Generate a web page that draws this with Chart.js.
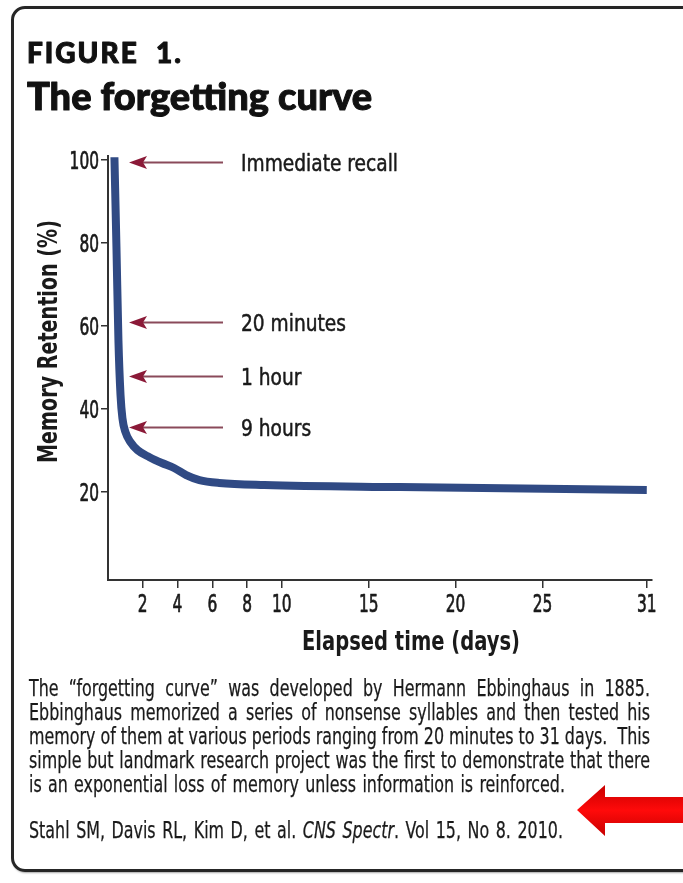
<!DOCTYPE html>
<html>
<head>
<meta charset="utf-8">
<script src="https://cdn.jsdelivr.net/npm/chart.js@4.4.0/dist/chart.umd.min.js"></script>
<style>
  html, body { margin: 0; padding: 0; background: #fff; }
  body { width: 683px; height: 883px; position: relative; overflow: hidden; }
  .frame {
    position: absolute; left: 11px; top: 6px; width: 700px; height: 860px;
    border: 3px solid #262626; border-radius: 14px;
    box-shadow: 1px 1px 2px rgba(0,0,0,0.35);
  }
  #chart { position: absolute; left: 0; top: 0; }
  .caption {
    position: absolute; left: 29px; top: 676px;
    font-family: 'DejaVu Sans Condensed', sans-serif;
    font-size: 23.5px; line-height: 24px; color: #1a1a1a;
    -webkit-text-stroke: 0.25px #1a1a1a;
    transform-origin: 0 0;
  }
  .caption div { white-space: nowrap; text-align: left; }
  .caption div.j { text-align: justify; text-align-last: justify; }
  .caption .cite { margin-top: 22px; }
</style>
</head>
<body>
<div class="frame"></div>
<canvas id="chart" width="683" height="883"></canvas>
<div class="caption" id="caption">
  <div class="row"><span>The “forgetting curve” was developed by Hermann Ebbinghaus in 1885.</span></div>
  <div class="row"><span>Ebbinghaus memorized a series of nonsense syllables and then tested his</span></div>
  <div class="row"><span>memory of them at various periods ranging from 20 minutes to 31 days.&nbsp; This</span></div>
  <div class="row"><span>simple but landmark research project was the first to demonstrate that there</span></div>
  <div id="last" data-w="536"><span>is an exponential loss of memory unless information is reinforced.</span></div>
  <div id="cite" class="cite" data-w="534"><span>Stahl SM, Davis RL, Kim D, et al. <i>CNS Spectr</i>. Vol 15, No 8. 2010.</span></div>
</div>
<script>
// values
const xTicks = [2, 4, 6, 8, 10, 15, 20, 25, 31];
const yTicks = [20, 40, 60, 80, 100];
const days = [0.37, 0.49, 0.6, 0.72, 0.83, 1.0, 1.3, 1.7, 2.39, 3.1, 3.8, 4.5, 5.26, 6.4, 9, 16.8, 31];
const retention = [100.7, 78.3, 56.6, 43.4, 37.8, 34.5, 32, 30.1, 28.4, 27, 25.8, 24.1, 22.9, 22.2, 21.7, 21.2, 20.5];
const noteLabels = ['Immediate recall', '20 minutes', '1 hour', '9 hours'];
const noteValues = [99.5, 61, 48, 35.7];

const COND = "'DejaVu Sans Condensed', sans-serif";
const TEXT = '#1a1a1a';
const AXIS = '#333';
const LINE = '#304a84';

// caption: squeeze so the tight lines fill the text block
const BLOCK = 621;
const cap = document.getElementById('caption');
const rows = Array.from(cap.querySelectorAll('.row'));
let k = 1;
rows.forEach(r => {
  const w = r.firstElementChild.getBoundingClientRect().width;
  k = Math.min(k, BLOCK / w);
});
cap.style.width = (BLOCK / k) + 'px';
cap.style.transform = 'scaleX(' + k + ')';
rows.forEach(r => r.classList.add('j'));
['last', 'cite'].forEach(id => {
  const el = document.getElementById(id);
  el.style.width = (el.dataset.w / k) + 'px';
  el.classList.add('j');
});

function squeezed(ctx, text, x, y, width, align, stroke) {
  const w = ctx.measureText(text).width;
  ctx.save();
  ctx.translate(x, y);
  ctx.scale(width / w, 1);
  ctx.textAlign = align;
  ctx.fillText(text, 0, 0);
  if (stroke) {
    ctx.lineWidth = stroke;
    ctx.strokeStyle = ctx.fillStyle;
    ctx.strokeText(text, 0, 0);
  }
  ctx.restore();
}

const notesPlugin = {
  id: 'notes',
  afterDraw(chart) {
    const { ctx, chartArea, scales: { x, y } } = chart;
    ctx.save();

    // titles
    ctx.fillStyle = '#111';
    ctx.strokeStyle = '#111';
    ctx.lineWidth = 1;
    ctx.lineJoin = 'round';
    ctx.textBaseline = 'alphabetic';
    ctx.textAlign = 'left';
    ctx.font = '900 28px Lato';
    ctx.letterSpacing = '2px';
    ctx.fillText('FIGURE  1.', 27, 62.5);
    ctx.strokeText('FIGURE  1.', 27, 62.5);
    ctx.letterSpacing = '0px';
    ctx.font = '900 38px Lato';
    ctx.fillText('The forgetting curve', 27, 110);
    ctx.strokeText('The forgetting curve', 27, 110);

    // tick labels, condensed like the original
    ctx.fillStyle = TEXT;
    ctx.font = '25px ' + COND;
    const dsx = 9.8 / ctx.measureText('0').width;
    y.ticks.forEach(t => {
      const s = String(t.value);
      squeezed(ctx, s, chartArea.left - 9, y.getPixelForValue(t.value) + 9, ctx.measureText(s).width * dsx, 'right', 0.7);
    });
    x.ticks.forEach(t => {
      const s = String(t.value);
      squeezed(ctx, s, x.getPixelForValue(t.value), 612, ctx.measureText(s).width * dsx, 'center', 0.7);
    });

    // arrows + labels
    ctx.font = '23.5px ' + COND;
    const lsx = 157 / ctx.measureText(noteLabels[0]).width;
    noteValues.forEach((v, i) => {
      const py = Math.round(y.getPixelForValue(v)) + 0.5;
      const tip = chartArea.left + 21;
      ctx.strokeStyle = '#8a4a5a';
      ctx.lineWidth = 2;
      ctx.beginPath();
      ctx.moveTo(tip + 12, py);
      ctx.lineTo(chartArea.left + 115, py);
      ctx.stroke();
      ctx.fillStyle = '#8b1a38';
      ctx.beginPath();
      ctx.moveTo(tip, py);
      ctx.lineTo(tip + 18, py - 6.5);
      ctx.lineTo(tip + 14, py);
      ctx.lineTo(tip + 18, py + 6.5);
      ctx.closePath();
      ctx.fill();
      ctx.fillStyle = TEXT;
      squeezed(ctx, noteLabels[i], chartArea.left + 133, py + 8.5, ctx.measureText(noteLabels[i]).width * lsx, 'left', 0.5);
    });

    // axis titles
    ctx.font = 'bold 27px ' + COND;
    squeezed(ctx, 'Elapsed time (days)', 411, 650, 218, 'center');
    ctx.save();
    ctx.translate(57, 341.5);
    ctx.rotate(-Math.PI / 2);
    squeezed(ctx, 'Memory Retention (%)', 0, 0, 243, 'center');
    ctx.restore();

    // big red arrow
    const g = ctx.createLinearGradient(0, 785, 0, 836);
    g.addColorStop(0, '#c80000');
    g.addColorStop(0.5, '#ff0a0a');
    g.addColorStop(1, '#c80000');
    ctx.fillStyle = g;
    ctx.beginPath();
    ctx.moveTo(577, 810);
    ctx.lineTo(605, 785);
    ctx.lineTo(605, 797);
    ctx.lineTo(690, 797);
    ctx.lineTo(690, 823);
    ctx.lineTo(605, 823);
    ctx.lineTo(605, 836);
    ctx.closePath();
    ctx.fill();
    ctx.restore();
  }
};

new Chart(document.getElementById('chart'), {
  type: 'line',
  data: {
    datasets: [{
      data: days.map((d, i) => ({ x: d, y: retention[i] })),
      borderColor: LINE,
      borderWidth: 8,
      pointRadius: 0,
      cubicInterpolationMode: 'monotone',
      borderCapStyle: 'butt',
      borderJoinStyle: 'round',
      clip: false
    }]
  },
  options: {
    responsive: false,
    animation: false,
    devicePixelRatio: 1,
    layout: { padding: { left: 0, top: 156, right: 683 - 652, bottom: 0 } },
    plugins: { legend: { display: false }, tooltip: { enabled: false } },
    scales: {
      x: {
        type: 'linear',
        min: 0,
        max: 31.3,
        afterFit: s => { s.height = 883 - 580; },
        afterBuildTicks: s => { s.ticks = xTicks.map(v => ({ value: v })); },
        grid: { drawOnChartArea: false, tickLength: 8, color: AXIS, lineWidth: 1.5 },
        border: { color: AXIS, width: 2 },
        ticks: { display: false }
      },
      y: {
        type: 'linear',
        min: -1.2,
        max: 101,
        afterFit: s => { s.width = 108; },
        afterBuildTicks: s => { s.ticks = yTicks.map(v => ({ value: v })); },
        grid: { drawOnChartArea: false, tickLength: 7, color: AXIS, lineWidth: 1.5 },
        border: { color: AXIS, width: 2 },
        ticks: { display: false }
      }
    }
  },
  plugins: [notesPlugin]
});
</script>
</body>
</html>
